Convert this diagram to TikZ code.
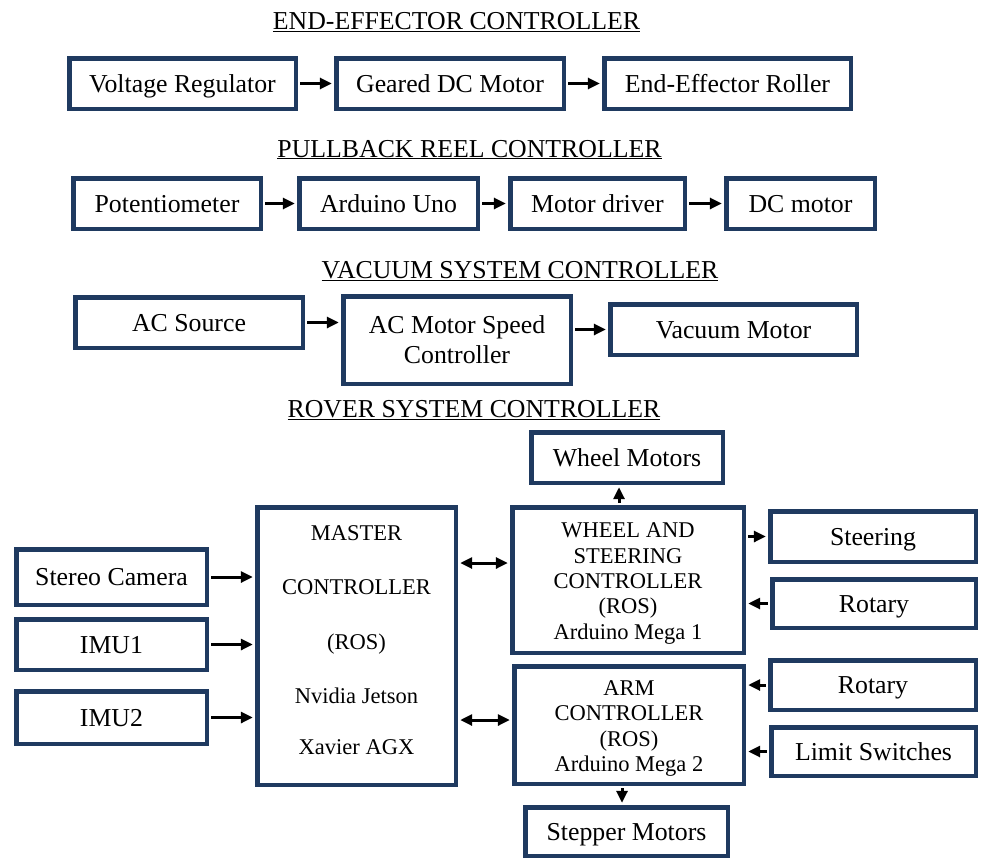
\documentclass[tikz,border=0pt]{standalone}
\usepackage{fontspec}
\setmainfont{Liberation Serif}
\usetikzlibrary{arrows.meta,calc}
\definecolor{boxblue}{HTML}{1F3A60}
\begin{document}
\begin{tikzpicture}[x=1pt,y=-1pt,
  blk/.style={draw=boxblue, line width=4.5pt, fill=white, inner sep=0pt, align=center, font=\fontsize{25.8}{30}\selectfont},
  sbox/.style={blk, text height=23.6pt, text depth=6.5pt},
  ctl/.style={blk, font=\fontsize{22.5}{25.3}\selectfont},
  ttl/.style={inner sep=0pt, anchor=base, font=\fontsize{25.8}{30}\selectfont},
  arr/.style={line width=3pt, -{Triangle[length=12pt,width=11pt]}, shorten >=2.2pt, shorten <=2.2pt},
  darr/.style={line width=3pt, {Triangle[length=12pt,width=11pt]}-{Triangle[length=12pt,width=11pt]}, shorten >=2.2pt, shorten <=2.2pt},
]
\useasboundingbox[fill=white] (0,0) rectangle (981,859);

% titles
\node[ttl] (t1) at (456.5,30) {\underline{END-EFFECTOR CONTROLLER}};
\node[ttl] (t2) at (469.5,157) {\underline{PULLBACK REEL CONTROLLER}};
\node[ttl] (t3) at (520,278) {\underline{VACUUM SYSTEM CONTROLLER}};
\node[ttl] (t4) at (474,417) {\underline{ROVER SYSTEM CONTROLLER}};

% end effector
\node[sbox, minimum width=226.5pt, minimum height=50.5pt] (vr) at (182.5,83.5) {Voltage Regulator};
\node[sbox, minimum width=227.5pt, minimum height=50.5pt] (gdc) at (450,83.5) {Geared DC Motor};
\node[sbox, minimum width=246.5pt, minimum height=50.5pt] (eer) at (727.5,83.5) {End-Effector Roller};
\draw[arr] (vr) -- (gdc);
\draw[arr] (gdc) -- (eer);

% pullback
\node[sbox, minimum width=187.5pt, minimum height=50.5pt] (pot) at (167,203.5) {Potentiometer};
\node[sbox, minimum width=178.5pt, minimum height=50.5pt] (uno) at (388.5,203.5) {Arduino Uno};
\node[sbox, minimum width=174.5pt, minimum height=50.5pt] (md) at (597.5,203.5) {Motor driver};
\node[sbox, minimum width=148.5pt, minimum height=50.5pt] (dcm) at (800.5,203.5) {DC motor};
\draw[arr] (pot) -- (uno);
\draw[arr] (uno) -- (md);
\draw[arr] (md) -- (dcm);

% vacuum
\node[sbox, minimum width=227.5pt, minimum height=50.5pt] (acs) at (189,322.5) {AC Source};
\node[blk, minimum width=227.5pt, minimum height=87.5pt] (acm) at (457,340) {AC Motor Speed\\Controller};
\node[sbox, minimum width=246.5pt, minimum height=50.5pt] (vm) at (733.5,329.5) {Vacuum Motor};
\draw[arr] (acs.east) -- (acs.east -| acm.west);
\draw[arr] (acm.east |- vm.west) -- (vm.west);

% rover
\node[sbox, minimum width=191.5pt, minimum height=50.5pt] (wm) at (627,457.5) {Wheel Motors};
\node[blk, minimum width=198.5pt, minimum height=277.5pt, font=\fontsize{22.5}{54.5}\selectfont] (master) at (356.5,646)
  {MASTER\\CONTROLLER\\(ROS)\\Nvidia Jetson\\[-4pt]Xavier AGX\rule[-12pt]{0pt}{12pt}};
\node[sbox, minimum width=190.5pt, minimum height=55.5pt] (sc) at (111.5,577) {Stereo Camera};
\node[sbox, minimum width=190.5pt, minimum height=50.5pt] (imu1) at (111.5,644.5) {IMU1};
\node[sbox, minimum width=190.5pt, minimum height=52.5pt] (imu2) at (111.5,717.5) {IMU2};
\node[ctl, minimum width=231.5pt, minimum height=145.5pt] (wsc) at (628,580)
  {\rule{0pt}{22pt}WHEEL AND\\STEERING\\CONTROLLER\\(ROS)\\Arduino Mega 1};
\node[ctl, minimum width=229.5pt, minimum height=117.5pt] (arm) at (629,725)
  {\rule{0pt}{22pt}ARM\\CONTROLLER\\(ROS)\\Arduino Mega 2};
\node[sbox, minimum width=205.5pt, minimum height=50.5pt] (steer) at (873,536.5) {Steering};
\node[sbox, minimum width=203.5pt, minimum height=48.5pt] (rot1) at (874,603.5) {Rotary};
\node[sbox, minimum width=205.5pt, minimum height=49.5pt] (rot2) at (873,685) {Rotary};
\node[sbox, minimum width=204.5pt, minimum height=48.5pt] (lim) at (873.5,751.5) {Limit Switches};
\node[sbox, minimum width=202.5pt, minimum height=48.5pt] (step) at (626.5,831.5) {Stepper Motors};

\coordinate (y1) at (0,563);
\coordinate (y2) at (0,720);
\coordinate (x1) at (619,0);
\coordinate (x2) at (622,0);

\draw[arr] (sc.east) -- (sc.east -| master.west);
\draw[arr] (imu1.east) -- (imu1.east -| master.west);
\draw[arr] (imu2.east) -- (imu2.east -| master.west);
\draw[darr] (y1 -| master.east) -- (y1 -| wsc.west);
\draw[darr] (y2 -| master.east) -- (y2 -| arm.west);
\draw[arr] (x1 |- wsc.north) -- (x1 |- wm.south);
\draw[arr] (wsc.east |- steer.west) -- (steer.west);
\draw[arr] (rot1.west) -- (rot1.west -| wsc.east);
\draw[arr] (rot2.west) -- (rot2.west -| arm.east);
\draw[arr] (lim.west) -- (lim.west -| arm.east);
\draw[arr] (x2 |- arm.south) -- (x2 |- step.north);
\end{tikzpicture}
\end{document}
